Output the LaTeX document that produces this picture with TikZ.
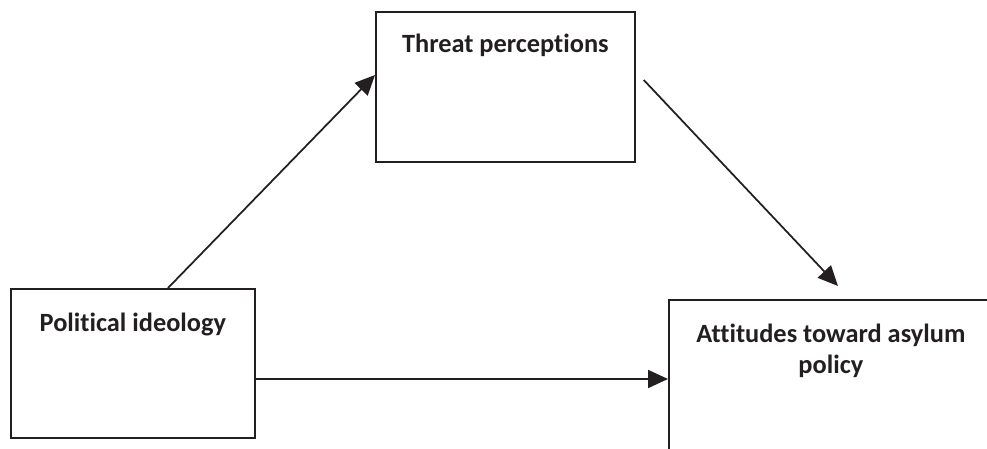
\documentclass[tikz,border=0pt]{standalone}
\usepackage{fontspec}
\setmainfont[Ligatures=NoCommon]{Carlito}
\usepackage{tikz}
\usetikzlibrary{arrows.meta,positioning,calc}
\definecolor{ink}{RGB}{35,31,32}

\begin{document}
\begin{tikzpicture}[
    box/.style={draw=ink, line width=1pt, anchor=north west, inner sep=0pt, align=center, text=ink, font=\bfseries\fontsize{15}{18}\selectfont},
    arr/.style={-{Triangle[length=0.4cm, width=0.36cm]}, line width=1pt, draw=ink}
]
\useasboundingbox (0,0) rectangle (19.74,-8.98);

\node[box, minimum width=5.18cm, text height=0.82cm, text depth=2.18cm] (threat) at (7.5,-0.22) {Threat perceptions};
\node[box, minimum width=4.88cm, text height=0.86cm, text depth=2.12cm] (pol) at (0.2,-5.76) {Political ideology};
\node[box, minimum width=6.48cm, text height=1.48cm, text depth=1.72cm] (att) at (13.36,-5.98) {Attitudes toward asylum\\policy};

\coordinate (attin) at ([yshift=-1.6cm]att.north west);

\draw[arr] ([xshift=3.16cm]pol.north west) -- ([yshift=-1.28cm]threat.north west);
\draw[arr] ([xshift=0.16cm, yshift=-1.38cm]threat.north east) -- ([xshift=3.4cm, yshift=0.26cm]att.north west);
\draw[arr] (attin -| pol.east) -- (attin);
\end{tikzpicture}
\end{document}
